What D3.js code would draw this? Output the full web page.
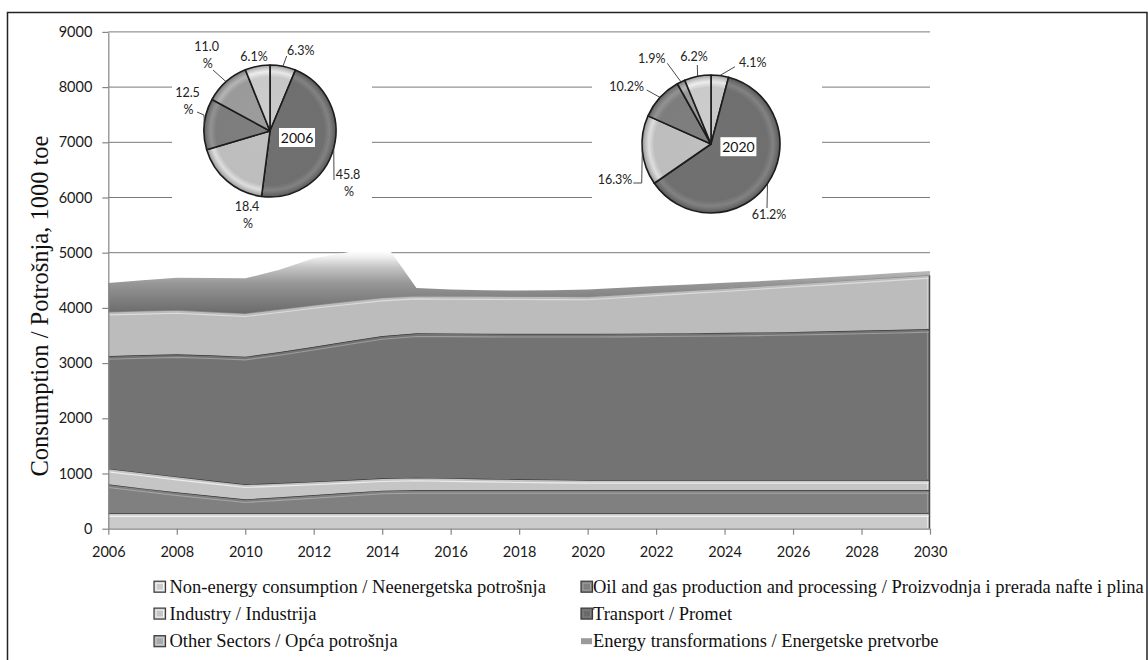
<!DOCTYPE html>
<html><head><meta charset="utf-8">
<script src="https://cdn.jsdelivr.net/npm/d3@7/dist/d3.min.js"></script>
<style>body{margin:0;background:#fff}svg{display:block}</style>
</head><body>
<svg id="c" width="1148" height="660"></svg>
<script>
// ---------------- DATA ----------------
const years = [2006,2007,2008,2009,2010,2011,2012,2013,2014,2015,2016,2017,2018,2019,2020,2021,2022,2023,2024,2025,2026,2027,2028,2029,2030];
const nonEnergy    = [280,280,280,280,280,280,280,280,280,280,280,280,280,280,280,280,280,280,280,280,280,280,280,280,280];
const oilGas       = [524,450,379,315,252,290,330,370,409,420,420,420,420,420,420,420,420,420,420,420,420,420,420,420,420];
const industry     = [283,285,283,278,272,258,242,232,224,225,215,205,195,188,182,182,182,182,182,182,182,182,182,182,182];
const transport    = [2041,2130,2218,2267,2312,2372,2443,2513,2577,2615,2622,2628,2635,2642,2648,2651,2656,2661,2666,2673,2683,2695,2708,2721,2736];
const otherSectors = [802,800,800,790,784,775,755,725,695,680,678,679,680,677,675,707,742,777,807,840,870,898,925,952,978];
const energyTransf = [520,555,585,610,635,715,850,890,1055,140,120,108,105,113,130,125,115,105,100,90,85,80,75,75,74];

const seriesNames = [
  "Non-energy consumption / Neenergetska potrošnja",
  "Oil and gas production and processing / Proizvodnja i prerada nafte i plina",
  "Industry / Industrija",
  "Transport / Promet",
  "Other Sectors / Opća potrošnja",
  "Energy transformations / Energetske pretvorbe"
];
const yTicks = [0,1000,2000,3000,4000,5000,6000,7000,8000,9000];
const xTicks = [2006,2008,2010,2012,2014,2016,2018,2020,2022,2024,2026,2028,2030];

// pie slices (clockwise from 12 o'clock)
const pieYears = ["2006","2020"];
const pie2006 = [6.3,45.8,18.4,12.5,11.0,6.1];
const pie2020 = [4.1,61.2,16.3,10.2,1.9,6.2];

// ---------------- STYLE / LAYOUT ----------------
const keys = ["ne","og","ind","tr","oth","et"];
const layerStyle = [
  {fill:"#cbcbcb", edge:"#3f3f3f", hl:"#f3f3f3"},
  {fill:"#808080", edge:"#3a3a3a", hl:"#a6a6a6"},
  {fill:"#c5c5c5", edge:"#3a3a3a", hl:"#ececec"},
  {fill:"#737373", edge:"#3a3a3a", hl:"#9d9d9d"},
  {fill:"#bcbcbc", edge:"#8c8c8c", hl:"#dcdcdc"},
  {fill:"url(#etGrad)", edge:null, hl:null}
];
const pieColors = ["#c6c6c6","#6f6f6f","#bdbdbd","#7d7d7d","#9a9a9a","#cacaca"];

const svg = d3.select("#c");
const defs = svg.append("defs");
const FONT_SANS = "Lato, 'Open Sans', sans-serif";
const FONT_SERIF = "'Liberation Serif', 'Times New Roman', serif";

const x = d3.scaleLinear().domain([2006,2030]).range([108.3,930]);
const y = d3.scaleLinear().domain([0,9000]).range([528.7,31.9]);

// ET gradient (vertical, dark at bottom -> white at top)
const etVals = years.map((_,i)=>nonEnergy[i]+oilGas[i]+industry[i]+transport[i]+otherSectors[i]+energyTransf[i]);
const etBase = d3.min(years.map((_,i)=>nonEnergy[i]+oilGas[i]+industry[i]+transport[i]+otherSectors[i]));
const etTop = d3.max(etVals);
const g0 = defs.append("linearGradient").attr("id","etGrad").attr("gradientUnits","userSpaceOnUse")
  .attr("x1",0).attr("x2",0).attr("y1",y(etBase)).attr("y2",y(etTop));
[[0,"#6a6a6a"],[0.41,"#979797"],[0.62,"#c4c4c4"],[0.76,"#eeeeee"],[0.84,"#ffffff"],[1,"#ffffff"]]
  .forEach(([o,c])=>g0.append("stop").attr("offset",o).attr("stop-color",c));

// ---------------- GRID ----------------
svg.append("g").selectAll("line").data(yTicks.filter(v=>v>0)).join("line")
  .attr("x1",x(2006)).attr("x2",x(2030)).attr("y1",d=>y(d)).attr("y2",d=>y(d))
  .attr("stroke","#7a7a7a").attr("stroke-width",1);

// ---------------- STACKED AREAS ----------------
const seriesData = [nonEnergy,oilGas,industry,transport,otherSectors,energyTransf];
const table = years.map((yr,i)=>{const o={year:yr}; keys.forEach((k,j)=>o[k]=seriesData[j][i]); return o;});
const stacked = d3.stack().keys(keys)(table);
const area = d3.area().x(d=>x(d.data.year)).y0(d=>y(d[0])).y1(d=>y(d[1]));
const topLine = d3.line().x(d=>x(d.data.year)).y(d=>y(d[1]));

const gA = svg.append("g");
stacked.forEach((layer,i)=>{
  const st = layerStyle[i];
  const cid = "clip"+i;
  defs.append("clipPath").attr("id",cid).append("path").attr("d",area(layer));
  gA.append("path").attr("d",area(layer)).attr("fill",st.fill);
  if(st.hl){
    gA.append("path").attr("d",topLine(layer)).attr("clip-path",`url(#${cid})`)
      .attr("fill","none").attr("stroke",st.hl).attr("stroke-width",2.2)
      .attr("transform","translate(0,2.6)");
    const last = layer[layer.length-1];
    gA.append("line").attr("x1",x(2030)-2.5).attr("x2",x(2030)-2.5)
      .attr("y1",y(last[1])+2).attr("y2",y(last[0])-1)
      .attr("stroke",st.hl).attr("stroke-width",1.2).attr("opacity",0.7);
    gA.append("line").attr("x1",x(2030)-0.5).attr("x2",x(2030)-0.5)
      .attr("y1",y(last[1])).attr("y2",y(last[0]))
      .attr("stroke","#4a4a4a").attr("stroke-width",1.5);
  }
  if(st.edge){
    gA.append("path").attr("d",topLine(layer)).attr("fill","none")
      .attr("stroke",st.edge).attr("stroke-width",1.3);
  }
});

// ---------------- AXES ----------------
const gx = svg.append("g").attr("transform",`translate(0,${y(0)})`)
  .call(d3.axisBottom(x).tickValues(xTicks).tickFormat(d3.format("d")).tickSize(6).tickSizeOuter(0));
const gy = svg.append("g").attr("transform",`translate(${x(2006)},0)`)
  .call(d3.axisLeft(y).tickValues(yTicks).tickFormat(d3.format("d")).tickSize(6).tickSizeOuter(0));
[gx,gy].forEach(g=>{
  g.select(".domain").attr("stroke","#868686").attr("stroke-width",1.2);
  g.selectAll(".tick line").attr("stroke","#868686").attr("stroke-width",1.2);
  g.selectAll(".tick text").attr("font-family",FONT_SANS).attr("font-size",14.5).attr("fill","#1a1a1a");
});
gx.selectAll(".tick text").attr("dy","1.35em");
gy.selectAll(".tick text").attr("x",-16);

// y axis title
svg.append("text").attr("transform","translate(39,306) rotate(-90)")
  .attr("text-anchor","middle").attr("dominant-baseline","central")
  .attr("font-family",FONT_SERIF).attr("font-size",24.5).attr("fill","#111")
  .text("Consumption / Potrošnja, 1000 toe");

// ---------------- PIES ----------------
const pieLayout = [
  {cx:270, cy:131, r:66, box:[172,36,200,199], yearOff:[27,6.5],
   labels:[
     {pos:[30.8,-81], lead:[[16.7,-75]]},
     {pos:[78,52], wrap:true, lead:[[64,49]]},
     {pos:[-23,84], wrap:true},
     {pos:[-82.5,-30], wrap:true, lead:[[-66,-16],[-73,-19]]},
     {pos:[-63.3,-76], wrap:true, lead:[[-57,-61]]},
     {pos:[-16,-74.3]}
   ]},
  {cx:711, cy:144, r:69, box:[592,36,230,199], yearOff:[27.4,2.7],
   labels:[
     {pos:[41.7,-81.7], lead:[[24,-77.3]]},
     {pos:[58,70], lead:[[56,64]]},
     {pos:[-96,35.3], lead:[[-69.3,39],[-77.7,39]]},
     {pos:[-84.3,-57.3], lead:[[-64.3,-54]]},
     {pos:[-59.3,-85.7], lead:[[-43.7,-80.7]]},
     {pos:[-17,-87.3], lead:[[-13.7,-79]]}
   ]}
];
const pieValues = [pie2006, pie2020];
const pieGen = d3.pie().sort(null).value(d=>d);

pieValues.forEach((vals,pi)=>{
  const L = pieLayout[pi];
  const g = svg.append("g");
  g.append("rect").attr("x",L.box[0]).attr("y",L.box[1]).attr("width",L.box[2]).attr("height",L.box[3]).attr("fill","#fff");
  const arcs = pieGen(vals);
  const arc = d3.arc().innerRadius(0).outerRadius(L.r);
  const gp = g.append("g").attr("transform",`translate(${L.cx},${L.cy})`);
  arcs.forEach((a,i)=>{
    const gid = `pg${pi}_${i}`;
    const c = d3.color(pieColors[i]);
    const rg = defs.append("radialGradient").attr("id",gid).attr("gradientUnits","userSpaceOnUse")
      .attr("cx",0).attr("cy",0).attr("r",L.r);
    [[0,c.brighter(0.05)],[0.82,c],[0.9,c.brighter(0.45)],[0.95,c],[1,c.darker(0.7)]]
      .forEach(([o,cc])=>rg.append("stop").attr("offset",o).attr("stop-color",cc));
    gp.append("path").attr("d",arc(a)).attr("fill",`url(#${gid})`)
      .attr("stroke","#1c1c1c").attr("stroke-width",1.6).attr("stroke-linejoin","round");
  });
  arcs.forEach((a,i)=>{
    const lab = L.labels[i];
    const mid = (a.startAngle+a.endAngle)/2;
    const rim = [L.r*Math.sin(mid), -L.r*Math.cos(mid)];
    if(lab.lead){
      const pts = [rim].concat(lab.lead);
      gp.append("path").attr("d",d3.line()(pts)).attr("fill","none").attr("stroke","#333").attr("stroke-width",0.9);
    }
    const txt = vals[i].toFixed(1)+"%";
    const t = gp.append("text").attr("font-family",FONT_SANS).attr("font-size",12.5).attr("fill","#222")
      .attr("text-anchor","middle");
    if(lab.wrap){
      t.append("tspan").attr("x",lab.pos[0]).attr("y",lab.pos[1]-8.5).attr("dominant-baseline","central").text(txt.slice(0,-1));
      t.append("tspan").attr("x",lab.pos[0]+1).attr("y",lab.pos[1]+8.5).attr("dominant-baseline","central").text("%");
    } else {
      t.attr("x",lab.pos[0]).attr("y",lab.pos[1]).attr("dominant-baseline","central").text(txt);
    }
  });
  const yb = gp.append("g").attr("transform",`translate(${L.yearOff[0]},${L.yearOff[1]})`);
  yb.append("rect").attr("x",-18).attr("y",-9.5).attr("width",36).attr("height",19).attr("fill","#fff");
  yb.append("text").attr("text-anchor","middle").attr("dominant-baseline","central")
    .attr("font-family",FONT_SANS).attr("font-size",14).attr("fill","#111").text(pieYears[pi]);
});

// ---------------- LEGEND ----------------
const legendCols = [154, 581];
const legendRows = [586.7, 613.6, 641.2];
const legendOrder = [0,1,2,3,4,5];
const legFill = ["#cbcbcb","#808080","#c5c5c5","#6a6a6a","#a9a9a9","#9a9a9a"];
const gL = svg.append("g");
legendOrder.forEach((si,k)=>{
  const col = k%2, row = Math.floor(k/2);
  const lx = legendCols[col], ly = legendRows[row];
  const isET = si===5;
  const w = isET?11:11.5, h = isET?6:11;
  gL.append("rect").attr("x",lx).attr("y",ly-h/2).attr("width",w).attr("height",h)
    .attr("fill",legFill[si]).attr("stroke",isET?"none":"#3a3a3a").attr("stroke-width",1.2);
  if(!isET) gL.append("rect").attr("x",lx+2).attr("y",ly-h/2+2).attr("width",w-4).attr("height",h-4)
    .attr("fill","none").attr("stroke",d3.color(legFill[si]).brighter(0.6)).attr("stroke-width",1);
  gL.append("text").attr("x",lx+(col===0?15.5:12)).attr("y",ly).attr("dominant-baseline","central")
    .attr("font-family",FONT_SERIF).attr("font-size",18.5).attr("fill","#111").text(seriesNames[si]);
});

// ---------------- BORDER ----------------
svg.append("rect").attr("x",7.5).attr("y",12.5).attr("width",1139.5).attr("height",660)
  .attr("fill","none").attr("stroke","#222").attr("stroke-width",1.5);
</script>
</body></html>
